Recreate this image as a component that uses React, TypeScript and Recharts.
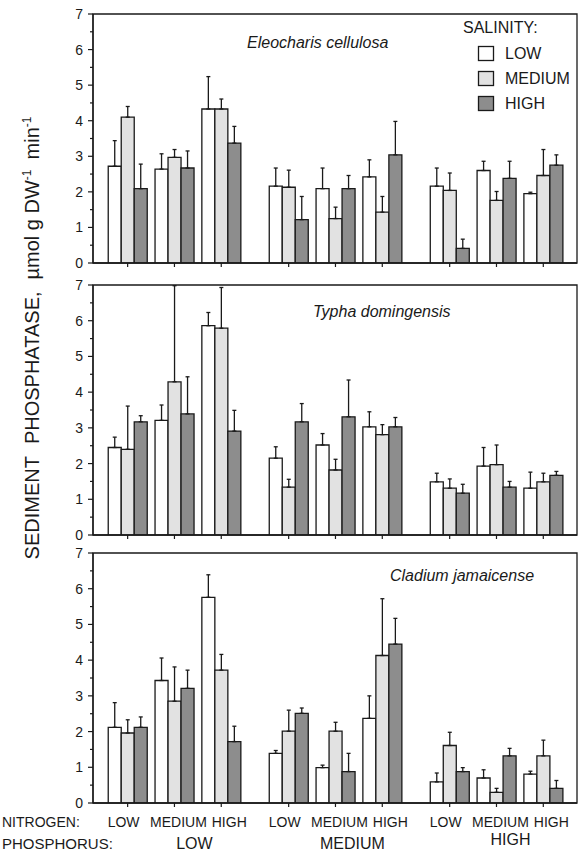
import React from 'react';
import { BarChart, Bar, XAxis, YAxis, ErrorBar, ReferenceArea, Legend } from 'recharts';

const FONT = "'Liberation Sans', Arial, Helvetica, sans-serif";
const INK = '#1a1a1a';

// group positions on the x axis (3 phosphorus groups x 3 nitrogen levels)
const xPositions = [0, 1, 2, 3.44, 4.44, 5.44, 6.88, 7.88, 8.88];
const nitrogenLevels = ['LOW', 'MEDIUM', 'HIGH'];
const phosphorusLevels = ['LOW', 'MEDIUM', 'HIGH'];
const salinityLevels = ['LOW', 'MEDIUM', 'HIGH'];
const salinityColors = ['#ffffff', '#e2e2e2', '#8d8d8d'];
const yTicks = [0, 0.5, 1, 1.5, 2, 2.5, 3, 3.5, 4, 4.5, 5, 5.5, 6, 6.5, 7];
const species = ['Eleocharis cellulosa', 'Typha domingensis', 'Cladium jamaicense'];

// Eleocharis cellulosa
const eleoLow = [2.72, 2.64, 4.33, 2.16, 2.09, 2.42, 2.16, 2.6, 1.95];
const eleoLowTop = [3.44, 3.07, 5.24, 2.67, 2.67, 2.9, 2.67, 2.86, 1.99];
const eleoMed = [4.1, 2.97, 4.33, 2.13, 1.25, 1.43, 2.04, 1.76, 2.46];
const eleoMedTop = [4.4, 3.19, 4.61, 2.61, 1.57, 1.87, 2.53, 2.01, 3.19];
const eleoHigh = [2.09, 2.67, 3.37, 1.22, 2.09, 3.04, 0.41, 2.38, 2.75];
const eleoHighTop = [2.78, 3.15, 3.84, 1.87, 2.46, 3.98, 0.67, 2.86, 3.04];

// Typha domingensis
const typhaLow = [2.45, 3.21, 5.86, 2.15, 2.52, 3.03, 1.49, 1.93, 1.31];
const typhaLowTop = [2.74, 3.64, 6.23, 2.47, 2.84, 3.45, 1.73, 2.45, 1.76];
const typhaMed = [2.4, 4.29, 5.79, 1.34, 1.82, 2.81, 1.31, 1.97, 1.49];
const typhaMedTop = [3.61, 6.98, 6.93, 1.56, 2.12, 3.09, 1.57, 2.52, 1.73];
const typhaHigh = [3.17, 3.39, 2.91, 3.17, 3.31, 3.03, 1.17, 1.34, 1.67];
const typhaHighTop = [3.34, 4.43, 3.49, 3.68, 4.34, 3.29, 1.42, 1.5, 1.78];

// Cladium jamaicense
const cladLow = [2.12, 3.43, 5.76, 1.39, 0.99, 2.37, 0.59, 0.7, 0.81];
const cladLowTop = [2.81, 4.06, 6.39, 1.47, 1.06, 3.0, 0.84, 0.93, 0.89];
const cladMed = [1.96, 2.85, 3.72, 2.01, 2.01, 4.13, 1.61, 0.3, 1.32];
const cladMedTop = [2.33, 3.81, 4.16, 2.6, 2.26, 5.72, 1.98, 0.41, 1.76];
const cladHigh = [2.12, 3.21, 1.72, 2.51, 0.88, 4.45, 0.88, 1.32, 0.41];
const cladHighTop = [2.41, 3.72, 2.15, 2.66, 1.39, 5.17, 0.99, 1.53, 0.63];

function buildRows(low: number[], lowTop: number[], med: number[], medTop: number[], high: number[], highTop: number[]) {
  return xPositions.map((x, i) => ({
    x,
    low: low[i],
    lowErr: [0, +(lowTop[i] - low[i]).toFixed(2)],
    med: med[i],
    medErr: [0, +(medTop[i] - med[i]).toFixed(2)],
    high: high[i],
    highErr: [0, +(highTop[i] - high[i]).toFixed(2)],
  }));
}

const eleoData = buildRows(eleoLow, eleoLowTop, eleoMed, eleoMedTop, eleoHigh, eleoHighTop);
const typhaData = buildRows(typhaLow, typhaLowTop, typhaMed, typhaMedTop, typhaHigh, typhaHighTop);
const cladData = buildRows(cladLow, cladLowTop, cladMed, cladMedTop, cladHigh, cladHighTop);

const YTick = (props: any) => {
  const { x, y, payload } = props;
  const v = payload.value;
  const major = Math.abs(v - Math.round(v)) < 1e-6;
  return (
    <g>
      <line x1={x} x2={x - (major ? 5 : 3)} y1={y} y2={y} stroke={INK} strokeWidth={1.2} />
      {major && (
        <text x={x - 10} y={y} dy={5} textAnchor="end" fontSize={14} fill={INK} fontFamily={FONT}>
          {v}
        </text>
      )}
    </g>
  );
};

const PlainXTick = (props: any) => {
  const { x, y } = props;
  return <line x1={x} x2={x} y1={y} y2={y + 4} stroke={INK} strokeWidth={1.2} />;
};

const nitrogenDx = [-4, 4, 8];
const phosphorusDx = [20, 17, 14];
const phosphorusDy = [46, 46, 42];

const BottomXTick = (props: any) => {
  const { x, y, index } = props;
  const n = index % 3;
  const p = Math.floor(index / 3);
  return (
    <g>
      <line x1={x} x2={x} y1={y} y2={y + 4} stroke={INK} strokeWidth={1.2} />
      <text x={x + nitrogenDx[n]} y={y + 24} textAnchor="middle" fontSize={14} fill={INK} fontFamily={FONT}>
        {nitrogenLevels[n]}
      </text>
      {n === 1 && (
        <text x={x + phosphorusDx[p]} y={y + phosphorusDy[p]} textAnchor="middle" fontSize={16} fill={INK} fontFamily={FONT}>
          {phosphorusLevels[p]}
        </text>
      )}
    </g>
  );
};

const LegendBox = () => (
  <svg width={124} height={104} style={{ overflow: 'visible' }}>
    <text x={8} y={19} fontSize={16} fill={INK} fontFamily={FONT}>SALINITY:</text>
    {salinityLevels.map((s, i) => (
      <g key={s}>
        <rect x={23.5} y={32.5 + i * 25} width={15} height={14} fill={salinityColors[i]} stroke={INK} strokeWidth={1.3} />
        <text x={50} y={45 + i * 25} fontSize={16} fill={INK} fontFamily={FONT}>{s}</text>
      </g>
    ))}
  </svg>
);

type PanelProps = {
  data: any[];
  height: number;
  marginTop: number;
  xAxisHeight: number;
  legend?: boolean;
  bottom?: boolean;
};

const seriesKeys = [
  { key: 'low', err: 'lowErr' },
  { key: 'med', err: 'medErr' },
  { key: 'high', err: 'highErr' },
];

function Panel({ data, height, marginTop, xAxisHeight, legend, bottom }: PanelProps) {
  return (
    <BarChart
      width={579}
      height={height}
      data={data}
      margin={{ top: marginTop, right: 2, bottom: 0, left: 53 }}
      barGap={0}
      barSize={13}
    >
      <XAxis
        dataKey="x"
        type="number"
        domain={[-0.74, 9.6]}
        ticks={xPositions}
        interval={0}
        height={xAxisHeight}
        tickSize={0}
        tickMargin={0}
        tickLine={false}
        axisLine={{ stroke: INK, strokeWidth: 1.3 }}
        tick={(p: any) => (bottom ? <BottomXTick {...p} /> : <PlainXTick {...p} />)}
        allowDataOverflow
      />
      <YAxis
        type="number"
        domain={[0, 7]}
        ticks={yTicks}
        interval={0}
        width={40}
        tickSize={0}
        tickMargin={0}
        tickLine={false}
        axisLine={{ stroke: INK, strokeWidth: 1.3 }}
        tick={(p: any) => <YTick {...p} />}
        allowDataOverflow
      />
      <ReferenceArea x1={-0.74} x2={9.6} y1={0} y2={7} fill="none" stroke={INK} strokeWidth={1.3} />
      {seriesKeys.map((s, i) => (
        <Bar
          key={s.key}
          dataKey={s.key}
          name={salinityLevels[i]}
          fill={salinityColors[i]}
          stroke={INK}
          strokeWidth={1.3}
          isAnimationActive={false}
        >
          <ErrorBar dataKey={s.err} width={2} stroke={INK} strokeWidth={1.3} direction="y" />
        </Bar>
      ))}
      {legend && (
        <Legend
          layout="vertical"
          align="center"
          verticalAlign="middle"
          wrapperStyle={{ left: 455, top: 14, width: 124, height: 104 }}
          content={() => <LegendBox />}
        />
      )}
    </BarChart>
  );
}

export default function App() {
  return (
    <div style={{ position: 'absolute', left: 0, top: 0, width: 579, height: 853, background: '#fff', fontFamily: FONT }}>
      <div style={{ position: 'absolute', left: 0, top: 0 }}>
        <Panel data={eleoData} height={272} marginTop={14} xAxisHeight={9} legend />
      </div>
      <div style={{ position: 'absolute', left: 0, top: 272 }}>
        <Panel data={typhaData} height={272} marginTop={13} xAxisHeight={9} />
      </div>
      <div style={{ position: 'absolute', left: 0, top: 544 }}>
        <Panel data={cladData} height={309} marginTop={9} xAxisHeight={50} bottom />
      </div>
      <svg
        width={579}
        height={853}
        style={{ position: 'absolute', left: 0, top: 0, pointerEvents: 'none' }}
      >
        <text x={247} y={48} fontSize={16} fontStyle="italic" fill={INK} fontFamily={FONT}>{species[0]}</text>
        <text x={313} y={317} fontSize={16} fontStyle="italic" fill={INK} fontFamily={FONT}>{species[1]}</text>
        <text x={390} y={581} fontSize={16} fontStyle="italic" fill={INK} fontFamily={FONT}>{species[2]}</text>
        <text
          transform="translate(39,338) rotate(-90)"
          x={0}
          y={0}
          textAnchor="middle"
          fontSize={20}
          fill={INK}
          fontFamily={FONT}
        >
          <tspan>SEDIMENT</tspan>
          <tspan dx={12}>PHOSPHATASE,</tspan>
          <tspan dx={12}>µmol g DW</tspan>
          <tspan dy={-8} fontSize={12}>-1</tspan>
          <tspan dx={10} dy={8}>min</tspan>
          <tspan dy={-8} fontSize={12}>-1</tspan>
        </text>
        <text x={2} y={827} fontSize={14} fill={INK} fontFamily={FONT}>NITROGEN:</text>
        <text x={2} y={849} fontSize={15} fill={INK} fontFamily={FONT}>PHOSPHORUS:</text>
      </svg>
    </div>
  );
}
